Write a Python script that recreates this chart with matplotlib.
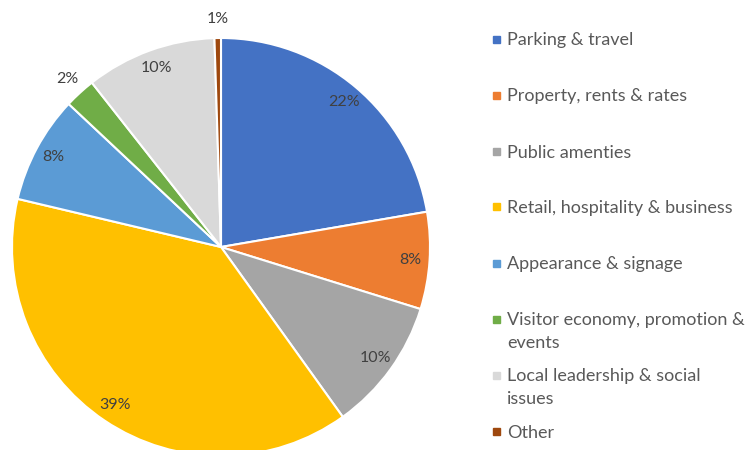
import numpy as np
import matplotlib
matplotlib.use('Agg')
import matplotlib.pyplot as plt
from matplotlib.patches import Rectangle

labels = ['Parking & travel', 'Property, rents & rates', 'Public amenties',
          'Retail, hospitality & business', 'Appearance & signage',
          'Visitor economy, promotion &\nevents', 'Local leadership & social\nissues',
          'Other']
shares = [22.3, 7.5, 10.3, 38.6, 8.3, 2.4, 10.1, 0.5]
colors = ['#4472C4', '#ED7D31', '#A5A5A5', '#FFC000', '#5B9BD5',
          '#70AD47', '#D9D9D9', '#9E480E']

plt.rcParams['font.family'] = ['Lato', 'DejaVu Sans']

W, H = 752, 450
fig = plt.figure(figsize=(W / 100, H / 100), dpi=100)

cx, cy, r = 221, 247, 209
ax = fig.add_axes([(cx - r) / W, (H - cy - r) / H, 2 * r / W, 2 * r / H])

wedges, _ = ax.pie(shares, colors=colors, startangle=90, counterclock=False,
                   radius=1, wedgeprops=dict(edgecolor='white', linewidth=1.5))
ax.set_xlim(-1, 1)
ax.set_ylim(-1, 1)
ax.set_aspect('equal')
ax.axis('off')

# percentage labels, small slices pushed outside
for w, v in zip(wedges, shares):
    ang = np.deg2rad(0.5 * (w.theta1 + w.theta2))
    d = 1.09 if v < 5 else 0.91
    ax.text(d * np.cos(ang), d * np.sin(ang), '%d%%' % int(v + 0.5),
            ha='center', va='center', fontsize=11.5, color='#404040')

# legend drawn by hand, 56 px per entry, 22 px per wrapped line
for i, (lab, c) in enumerate(zip(labels, colors)):
    y = 1 - (39 + 56 * i) / H
    fig.patches.append(Rectangle((493 / W, y - 3.5 / H), 7 / W, 7 / H,
                                 transform=fig.transFigure, color=c))
    for k, line in enumerate(lab.split('\n')):
        fig.text(507 / W, y - 22 * k / H, line, ha='left', va='center_baseline',
                 fontsize=13, color='#595959')

fig.savefig('out.png', dpi=100)
